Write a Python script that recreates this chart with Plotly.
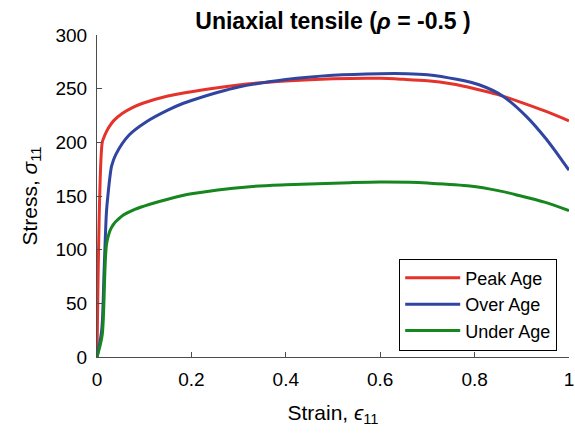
import plotly.graph_objects as go

# Stress-strain curves, uniaxial tension (rho = -0.5)
peak_strain = [0, 0.011, 0.015, 0.02, 0.026, 0.035, 0.054, 0.075, 0.097, 0.15, 0.2, 0.3,
               0.4, 0.5, 0.6, 0.65, 0.7, 0.75, 0.8, 0.85, 0.9, 0.95, 1.0]
peak_stress = [0, 199.7, 205, 210, 214.6, 220, 227, 232.3, 236.4, 243.2, 247.2, 253.5,
               257.2, 259.3, 259.7, 258.7, 257.3, 254.5, 250, 244.5, 237, 229, 220]

over_strain = [0, 0.01, 0.015, 0.02, 0.023, 0.031, 0.04, 0.068, 0.104, 0.15, 0.183,
               0.2, 0.3, 0.4, 0.5, 0.6, 0.656, 0.7, 0.762, 0.811, 0.86, 0.91, 0.95, 0.984, 1.0]
over_stress = [0, 25, 80, 135, 150, 178, 188.8, 206.8, 219, 230, 236.4,
               239, 251.5, 258.5, 262.5, 264, 264, 263, 258.7, 253.4, 243, 224, 204, 184, 174]

under_strain = [0, 0.011, 0.0205, 0.031, 0.052, 0.08, 0.112, 0.15, 0.2, 0.324, 0.4, 0.536,
                0.6, 0.663, 0.7, 0.79, 0.85, 0.889, 0.95, 1.0]
under_stress = [0, 20.5, 106, 121, 131, 137.5, 142.3, 147, 152, 158.7, 160.5, 162.4,
                163, 162.7, 162, 159.3, 155, 151, 144, 136.3]

x_ticks = [0, 0.2, 0.4, 0.6, 0.8, 1.0]
x_tick_text = ["0", "0.2", "0.4", "0.6", "0.8", "1"]
y_ticks = [0, 50, 100, 150, 200, 250, 300]

series = [
    ("Peak Age", peak_strain, peak_stress, "#e5322b"),
    ("Over Age", over_strain, over_stress, "#3045a0"),
    ("Under Age", under_strain, under_stress, "#16861f"),
]

fig = go.Figure()
for name, xs, ys, color in series:
    fig.add_trace(go.Scatter(x=xs, y=ys, mode="lines", name=name,
                             line=dict(color=color, width=3, shape="spline",
                                       smoothing=0.8)))

font_family = "Liberation Sans, Arial, Helvetica, sans-serif"
axis_color = "#4d4d4d"

fig.update_layout(
    width=575, height=438,
    margin=dict(l=97, r=6, t=35, b=81, autoexpand=False),
    paper_bgcolor="white", plot_bgcolor="white",
    font=dict(family=font_family, size=19, color="black"),
    title=dict(text="<b>Uniaxial tensile (<i>ρ</i> = -0.5 )</b>",
               x=(97 + 569) / 2 / 575, xanchor="center",
               y=1 - 21 / 438, yanchor="middle", yref="container",
               font=dict(size=23, family=font_family)),
    showlegend=True,
    legend=dict(x=0.975, y=0.02, xanchor="right", yanchor="bottom",
                bgcolor="white", bordercolor="black", borderwidth=1,
                font=dict(size=18, family=font_family),
                tracegroupgap=0, itemwidth=55),
)

fig.update_xaxes(
    range=[0, 1], tickvals=x_ticks, ticktext=x_tick_text,
    showgrid=False, zeroline=False, automargin=False,
    showline=True, linecolor=axis_color, linewidth=1,
    ticks="inside", ticklen=5, tickcolor=axis_color,
    tickfont=dict(size=19), ticklabelstandoff=5,
    title=dict(text="Strain, <i>ϵ</i><sub>11</sub>", font=dict(size=21), standoff=16),
)
fig.update_yaxes(
    range=[0, 300], tickvals=y_ticks,
    showgrid=False, zeroline=False, automargin=False,
    showline=True, linecolor=axis_color, linewidth=1,
    ticks="inside", ticklen=5, tickcolor=axis_color,
    tickfont=dict(size=19), ticklabelstandoff=5,
    title=dict(text="Stress, <i>σ</i><sub>11</sub>", font=dict(size=21), standoff=12),
)

fig.write_html("out.html")
